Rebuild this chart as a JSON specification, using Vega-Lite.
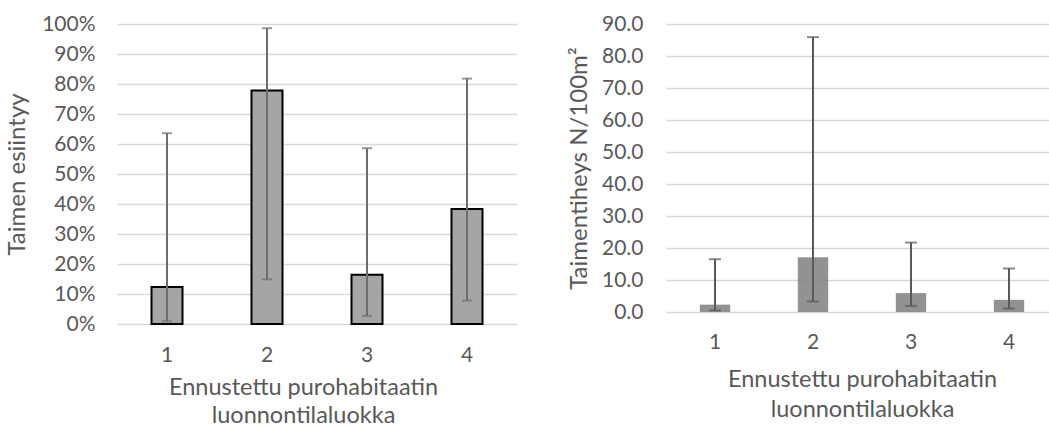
{
  "$schema": "https://vega.github.io/schema/vega-lite/v6.json",
  "padding": {"left": 5, "top": 13, "right": 0, "bottom": 0},
  "config": {
    "font": "Lato",
    "view": {"stroke": null},
    "axis": {
      "labelColor": "#595959",
      "titleColor": "#595959",
      "labelFont": "Lato",
      "titleFont": "Lato",
      "titleFontWeight": "normal",
      "gridColor": "#d9d9d9",
      "gridWidth": 1.5,
      "domain": false,
      "ticks": false,
      "labelOverlap": false
    }
  },
  "spacing": 50,
  "hconcat": [
    {
      "width": 400,
      "height": 300,
      "data": {"values": [
        {"k": "1", "v": 0.123, "lo": 0.009, "hi": 0.636},
        {"k": "2", "v": 0.778, "lo": 0.149, "hi": 0.986},
        {"k": "3", "v": 0.164, "lo": 0.027, "hi": 0.586},
        {"k": "4", "v": 0.383, "lo": 0.078, "hi": 0.818}
      ]},
      "encoding": {
        "x": {"field": "k", "type": "nominal", "scale": {"paddingInner": 0.69, "paddingOuter": 0.345},
          "axis": {"labelAngle": 0, "labelFontSize": 21, "labelPadding": 20, "grid": false,
            "title": ["Ennustettu purohabitaatin", "luonnontilaluokka"], "titleFontSize": 23.5, "titleLineHeight": 28, "titlePadding": 10, "titleX": 186}}
      },
      "layer": [
        {
          "mark": {"type": "bar", "color": "#a5a5a5", "stroke": "#000000", "strokeWidth": 2},
          "encoding": {
            "y": {"field": "v", "type": "quantitative", "scale": {"domain": [0, 1]},
              "axis": {"format": "%", "values": [0, 0.1, 0.2, 0.3, 0.4, 0.5, 0.6, 0.7, 0.8, 0.9, 1], "tickCount": 11, "labelOverlap": false, "labelFontSize": 21, "labelPadding": 22,
                "title": "Taimen esiintyy", "titleFontSize": 24, "titlePadding": 12}}
          }
        },
        {
          "mark": {"type": "rule", "color": "#6d6d6d", "strokeWidth": 2},
          "encoding": {"y": {"field": "lo", "type": "quantitative",
              "axis": {"format": "%", "values": [0, 0.1, 0.2, 0.3, 0.4, 0.5, 0.6, 0.7, 0.8, 0.9, 1], "tickCount": 11, "labelOverlap": false, "labelFontSize": 21, "labelPadding": 22,
                "title": "Taimen esiintyy", "titleFontSize": 24, "titlePadding": 12}}, "y2": {"field": "hi"}}
        },
        {
          "mark": {"type": "tick", "color": "#6d6d6d", "thickness": 2, "size": 10, "orient": "horizontal"},
          "encoding": {"y": {"field": "lo", "type": "quantitative",
              "axis": {"format": "%", "values": [0, 0.1, 0.2, 0.3, 0.4, 0.5, 0.6, 0.7, 0.8, 0.9, 1], "tickCount": 11, "labelOverlap": false, "labelFontSize": 21, "labelPadding": 22,
                "title": "Taimen esiintyy", "titleFontSize": 24, "titlePadding": 12}}}
        },
        {
          "mark": {"type": "tick", "color": "#6d6d6d", "thickness": 2, "size": 10, "orient": "horizontal"},
          "encoding": {"y": {"field": "hi", "type": "quantitative",
              "axis": {"format": "%", "values": [0, 0.1, 0.2, 0.3, 0.4, 0.5, 0.6, 0.7, 0.8, 0.9, 1], "tickCount": 11, "labelOverlap": false, "labelFontSize": 21, "labelPadding": 22,
                "title": "Taimen esiintyy", "titleFontSize": 24, "titlePadding": 12}}}
        }
      ]
    },
    {
      "width": 392,
      "height": 288,
      "data": {"values": [
        {"k": "1", "v": 2.3, "lo": 0.5, "hi": 16.5},
        {"k": "2", "v": 17.1, "lo": 3.3, "hi": 85.9},
        {"k": "3", "v": 5.9, "lo": 1.9, "hi": 21.7},
        {"k": "4", "v": 3.8, "lo": 1.1, "hi": 13.6}
      ]},
      "encoding": {
        "x": {"field": "k", "type": "nominal", "scale": {"paddingInner": 0.69, "paddingOuter": 0.345},
          "axis": {"labelAngle": 0, "labelFontSize": 21, "labelPadding": 19, "grid": false,
            "title": ["Ennustettu purohabitaatin", "luonnontilaluokka"], "titleFontSize": 23.5, "titleLineHeight": 30, "titlePadding": 15}}
      },
      "layer": [
        {
          "mark": {"type": "bar", "color": "#7f7f7f", "opacity": 0.85},
          "encoding": {
            "y": {"field": "v", "type": "quantitative", "scale": {"domain": [0, 90]},
              "axis": {"format": ".1f", "values": [0, 10, 20, 30, 40, 50, 60, 70, 80, 90], "tickCount": 10, "labelOverlap": false, "labelFontSize": 21, "labelPadding": 23,
                "title": "Taimentiheys N/100m²", "titleFontSize": 24, "titlePadding": 10}}
          }
        },
        {
          "mark": {"type": "rule", "color": "#595959", "strokeWidth": 2},
          "encoding": {"y": {"field": "lo", "type": "quantitative",
              "axis": {"format": ".1f", "values": [0, 10, 20, 30, 40, 50, 60, 70, 80, 90], "tickCount": 10, "labelOverlap": false, "labelFontSize": 21, "labelPadding": 23,
                "title": "Taimentiheys N/100m²", "titleFontSize": 24, "titlePadding": 10}}, "y2": {"field": "hi"}}
        },
        {
          "mark": {"type": "tick", "color": "#595959", "thickness": 2, "size": 12, "orient": "horizontal"},
          "encoding": {"y": {"field": "lo", "type": "quantitative",
              "axis": {"format": ".1f", "values": [0, 10, 20, 30, 40, 50, 60, 70, 80, 90], "tickCount": 10, "labelOverlap": false, "labelFontSize": 21, "labelPadding": 23,
                "title": "Taimentiheys N/100m²", "titleFontSize": 24, "titlePadding": 10}}}
        },
        {
          "mark": {"type": "tick", "color": "#595959", "thickness": 2, "size": 12, "orient": "horizontal"},
          "encoding": {"y": {"field": "hi", "type": "quantitative",
              "axis": {"format": ".1f", "values": [0, 10, 20, 30, 40, 50, 60, 70, 80, 90], "tickCount": 10, "labelOverlap": false, "labelFontSize": 21, "labelPadding": 23,
                "title": "Taimentiheys N/100m²", "titleFontSize": 24, "titlePadding": 10}}}
        }
      ]
    }
  ]
}
